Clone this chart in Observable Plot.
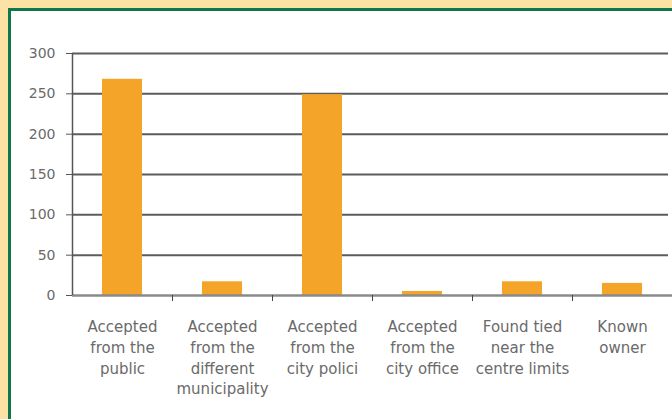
<!DOCTYPE html>
<html>
<head>
<meta charset="utf-8">
<script src="https://cdn.jsdelivr.net/npm/d3@7"></script>
<script src="https://cdn.jsdelivr.net/npm/@observablehq/plot@0.6"></script>
<style>
  html, body { margin: 0; padding: 0; background: #fde2a6; }
  body { width: 672px; height: 419px; position: relative; overflow: hidden; }
  #panel { position: absolute; left: 8px; top: 8px; right: 0; bottom: 0; background: #ffffff;
           border-left: 3px solid #0d7849; border-top: 3px solid #0d7849; }
  #chart { position: absolute; left: 0; top: 0; }
</style>
</head>
<body>
<div id="panel"></div>
<div id="chart"></div>
<script>
const categories = ["c1", "c2", "c3", "c4", "c5", "c6"];
const labels = [
  "Accepted\nfrom the\npublic",
  "Accepted\nfrom the\ndifferent\nmunicipality",
  "Accepted\nfrom the\ncity polici",
  "Accepted\nfrom the\ncity office",
  "Found tied\nnear the\ncentre limits",
  "Known\nowner"
];
const values = [268, 17, 249, 5, 17, 15];
const yTicks = [0, 50, 100, 150, 200, 250, 300];

const data = categories.map((c, i) => ({cat: c, label: labels[i], value: values[i]}));

const chart = Plot.plot({
  width: 672,
  height: 419,
  marginLeft: 72,
  marginRight: 0,
  marginTop: 53,
  marginBottom: 124,
  style: {background: "transparent", fontFamily: "DejaVu Sans", fontSize: "14px", color: "#666"},
  x: {domain: categories, paddingInner: 0.6, paddingOuter: 0.3, axis: null, label: null},
  y: {domain: [0, 300], axis: null, label: null},
  marks: [
    Plot.ruleY(yTicks.filter(d => d > 0), {y: d => d, stroke: "#5c5c5c", strokeWidth: 2, insetRight: 4}),
    Plot.barY(data, {x: "cat", y: "value", fill: "#f4a429"}),
    Plot.ruleY([0], {stroke: "#8a8a8a", strokeWidth: 2.5}),
    Plot.ruleX([categories[0]], {x: d => d, dx: -50, stroke: "#555", strokeWidth: 1.5}),
    Plot.axisY({ticks: yTicks, tickSize: 6, tickPadding: 11, stroke: "#555", fill: "#6a6a6a", fontSize: 14, label: null}),
    Plot.axisX({tickSize: 6, dx: 50, tickFormat: () => "", stroke: "#444", label: null}),
    Plot.text(data, {x: "cat", text: "label", frameAnchor: "bottom", lineAnchor: "top", dy: 22,
                     lineHeight: 1.38, fontSize: 15, fill: "#6a6a6a"})
  ]
});
document.getElementById("chart").appendChild(chart);
</script>
</body>
</html>
